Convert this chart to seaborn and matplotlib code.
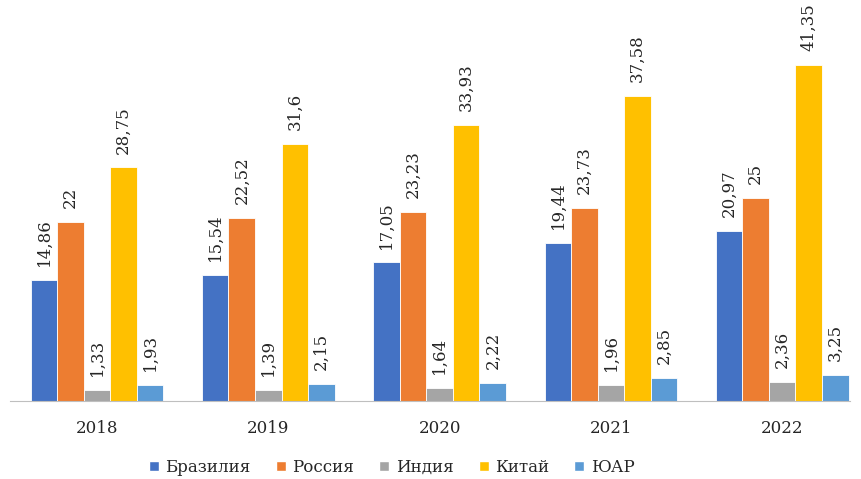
import matplotlib
matplotlib.use("Agg")
import matplotlib.pyplot as plt
import seaborn as sns
import pandas as pd
from matplotlib.patches import Patch

years = ["2018", "2019", "2020", "2021", "2022"]
countries = ["Бразилия", "Россия", "Индия", "Китай", "ЮАР"]
brazil = [14.86, 15.54, 17.05, 19.44, 20.97]
russia = [22, 22.52, 23.23, 23.73, 25]
india = [1.33, 1.39, 1.64, 1.96, 2.36]
china = [28.75, 31.6, 33.93, 37.58, 41.35]
sar = [1.93, 2.15, 2.22, 2.85, 3.25]
colors = ["#4472C4", "#ED7D31", "#A5A5A5", "#FFC000", "#5B9BD5"]

rows = []
for name, vals in zip(countries, [brazil, russia, india, china, sar]):
    for y, v in zip(years, vals):
        rows.append({"year": y, "country": name, "value": v})
df = pd.DataFrame(rows)

sns.set_style("white")
plt.rcParams["font.family"] = ["DejaVu Serif", "Liberation Serif"]

fig = plt.figure(figsize=(8.61, 4.79), dpi=100)
ax = fig.add_axes([10 / 861, 78 / 479, 840 / 861, 390 / 479])
sns.barplot(data=df, x="year", y="value", hue="country", palette=colors,
            width=0.775, edgecolor="white", linewidth=0.6, saturation=1,
            legend=False, ax=ax)

for cont, vals in zip(ax.containers, [brazil, russia, india, china, sar]):
    labels = [("%g" % v).replace(".", ",") for v in vals]
    ax.bar_label(cont, labels=labels, rotation=90, padding=10, fontsize=12)

ax.set_ylim(0, 48)
ax.set_xlim(-0.508, 4.396)
ax.set_yticks([])
ax.set_xlabel("")
ax.set_ylabel("")
for s in ["top", "right", "left"]:
    ax.spines[s].set_visible(False)
ax.spines["bottom"].set_color("#BFBFBF")
ax.tick_params(axis="x", length=0, pad=14, labelsize=12)

handles = [Patch(facecolor=c, label=n) for c, n in zip(colors, countries)]
fig.legend(handles=handles, loc="lower center", bbox_to_anchor=(0.455, -0.025),
           ncol=5, frameon=False, fontsize=12, handlelength=0.6,
           handleheight=0.6, handletextpad=0.4, columnspacing=1.5)

fig.savefig("out.png", dpi=100)
